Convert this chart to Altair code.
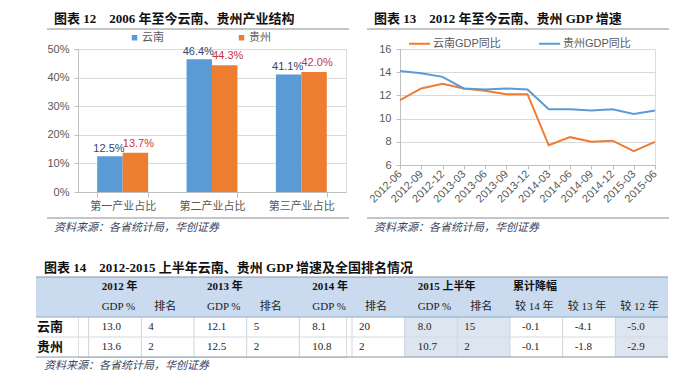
import altair as alt
import pandas as pd

# ---------------- data: 图表 12 ----------------
categories = ["第一产业占比", "第二产业占比", "第三产业占比"]
provinces = ["云南", "贵州"]
yunnan_share = [12.5, 46.4, 41.1]
guizhou_share = [13.7, 44.3, 42.0]

# ---------------- data: 图表 13 ----------------
quarters = ["2012-06", "2012-09", "2012-12", "2013-03", "2013-06", "2013-09", "2013-12",
            "2014-03", "2014-06", "2014-09", "2014-12", "2015-03", "2015-06"]
series_names = ["云南GDP同比", "贵州GDP同比"]
yunnan_gdp = [11.6, 12.6, 13.0, 12.6, 12.4, 12.1, 12.1, 7.7, 8.4, 8.0, 8.1, 7.2, 8.0]
guizhou_gdp = [14.1, 13.9, 13.6, 12.6, 12.5, 12.6, 12.5, 10.8, 10.8, 10.7, 10.8, 10.4, 10.7]

# ---------------- data: 图表 14 ----------------
year_headers = ["2012 年", "2013 年", "2014 年", "2015 上半年", "累计降幅"]
sub_headers = ["GDP %", "排名", "GDP %", "排名", "GDP %", "排名", "GDP %", "排名",
               "较 14 年", "较 13 年", "较 12 年"]
yunnan_row = ["13.0", "4", "12.1", "5", "8.1", "20", "8.0", "15", "-0.1", "-4.1", "-5.0"]
guizhou_row = ["13.6", "2", "12.5", "2", "10.8", "2", "10.7", "2", "-0.1", "-1.8", "-2.9"]

title12 = "图表 12\u30002006 年至今云南、贵州产业结构"
title13 = "图表 13\u30002012 年至今云南、贵州 GDP 增速"
title14 = "图表 14\u30002012-2015 上半年云南、贵州 GDP 增速及全国排名情况"
source_text = "资料来源：各省统计局，华创证券"

# ---------------- styles ----------------
BLUE = "#5B9BD5"
ORANGE = "#ED7D31"
SANS = "Liberation Sans, Noto Sans CJK SC"
SERIF = "Liberation Serif, Noto Sans CJK SC"
LAB = "#595959"
AXC = "#BFBFBF"
GRID = "#D9D9D9"
SRC = "#3B4560"
LINEC = "#8C8C8C"

one_title12 = pd.DataFrame({"t": [title12]})
one_title13 = pd.DataFrame({"t": [title13]})
one_title14 = pd.DataFrame({"t": [title14]})
one_src = pd.DataFrame({"t": [source_text]})


def title_mark(df, x, y):
    return alt.Chart(df).mark_text(align="left", baseline="middle", font=SERIF, fontSize=13,
                                   fontWeight="bold", color="#111111").encode(
        x=alt.value(x), y=alt.value(y), text="t:N")


def source_mark(x, y):
    return alt.Chart(one_src).mark_text(align="left", baseline="middle", font=SANS, fontSize=11,
                                        fontStyle="italic", color=SRC).encode(
        x=alt.value(x), y=alt.value(y), text="t:N")


def hrule(x1, x2, y, color=LINEC):
    return alt.Chart(one_src).mark_rule(color=color, strokeWidth=1).encode(
        x=alt.value(x1), x2=alt.value(x2), y=alt.value(y))


# ---------------- 图表 12: bar chart ----------------
bar_df = pd.DataFrame({
    "类别": categories * 2,
    "省份": [provinces[0]] * len(categories) + [provinces[1]] * len(categories),
    "值": yunnan_share + guizhou_share,
})
bar_df["标签"] = bar_df["值"].map(lambda v: f"{v:.1f}%")

bx = alt.X("类别:N", sort=categories,
           scale=alt.Scale(paddingInner=0.43, paddingOuter=0.215),
           axis=alt.Axis(title=None, labelAngle=0, tickBand="extent", tickSize=5, labelPadding=3,
                         domainColor=AXC, tickColor=AXC, labelColor=LAB, labelFontSize=11,
                         labelFont=SANS, grid=False))
bxo = alt.XOffset("省份:N", sort=provinces, scale=alt.Scale(paddingInner=0, paddingOuter=0))
by = alt.Y("值:Q", scale=alt.Scale(domain=[0, 50], nice=False),
           axis=alt.Axis(title=None, values=[0, 10, 20, 30, 40, 50], labelExpr="datum.value + '%'",
                         tickSize=4, labelPadding=5, domainColor=AXC, tickColor=AXC, gridColor=GRID,
                         labelColor=LAB, labelFontSize=11, labelFont=SANS))

bars = alt.Chart(bar_df).mark_bar().encode(
    x=bx, xOffset=bxo, y=by,
    color=alt.Color("省份:N", sort=provinces,
                    scale=alt.Scale(domain=provinces, range=[BLUE, ORANGE]),
                    legend=alt.Legend(title=None, orient="none", legendX=51, legendY=-17,
                                      direction="horizontal", symbolType="square", symbolSize=30,
                                      symbolStrokeWidth=0, labelFontSize=11, labelColor=LAB,
                                      labelFont=SANS, columnPadding=72, labelOffset=2, padding=0)),
)
lab_yn = alt.Chart(bar_df).transform_filter(alt.datum["省份"] == provinces[0]).mark_text(
    baseline="middle", dy=-7, dx=-1, font=SANS, fontSize=11, color="#34456E").encode(
    x=bx, xOffset=bxo, y=by, text="标签:N")
lab_gz = alt.Chart(bar_df).transform_filter(alt.datum["省份"] == provinces[1]).mark_text(
    baseline="middle", dy=-9, dx=3, font=SANS, fontSize=11, color="#C8343E").encode(
    x=bx, xOffset=bxo, y=by, text="标签:N")

bar_chart = alt.layer(
    bars, lab_yn, lab_gz,
    title_mark(one_title12, -24, -30),
    hrule(-31, 271, -20),
    hrule(-31, 271, 169),
    source_mark(-24, 179),
).properties(width=268, height=143)

# ---------------- 图表 13: line chart ----------------
line_df = pd.DataFrame({
    "季度": quarters * 2,
    "系列": [series_names[0]] * len(quarters) + [series_names[1]] * len(quarters),
    "增速": yunnan_gdp + guizhou_gdp,
})

lines = alt.Chart(line_df).mark_line(strokeWidth=2).encode(
    x=alt.X("季度:O", sort=quarters, scale=alt.Scale(type="point", padding=0),
            axis=alt.Axis(title=None, labelAngle=315, labelAlign="right", labelBaseline="middle",
                          tickSize=4, labelPadding=3, domainColor=AXC, tickColor=AXC,
                          labelColor=LAB, labelFontSize=11, labelFont=SANS, grid=False)),
    y=alt.Y("增速:Q", scale=alt.Scale(domain=[6, 16], nice=False, zero=False),
            axis=alt.Axis(title=None, values=[6, 8, 10, 12, 14, 16], tickSize=4, labelPadding=5,
                          domainColor=AXC, tickColor=AXC, gridColor=GRID, labelColor=LAB,
                          labelFontSize=11, labelFont=SANS)),
    color=alt.Color("系列:N", sort=series_names,
                    scale=alt.Scale(domain=series_names, range=[ORANGE, BLUE]),
                    legend=alt.Legend(title=None, orient="none", legendX=8, legendY=-17,
                                      direction="horizontal", symbolType="stroke", symbolSize=441,
                                      symbolStrokeWidth=2, labelFontSize=11, labelColor=LAB,
                                      labelFont=SANS, columnPadding=34, labelOffset=2, padding=0)),
)

line_chart = alt.layer(
    lines,
    title_mark(one_title13, -26, -30),
    hrule(-33, 269, -20),
    hrule(-33, 269, 169),
    source_mark(-26, 179),
).properties(width=255, height=116)

# ---------------- 图表 14: table ----------------
ncols = 1 + len(sub_headers)
nrows = 4
XS = alt.Scale(domain=[0, ncols], range=[-42, 590], nice=False, zero=False)
YS = alt.Scale(domain=[0, nrows], range=[0, 80], nice=False, zero=False)

year_df = pd.DataFrame({"col": [1 + 2 * i for i in range(len(year_headers))], "row": 0, "t": year_headers})
sub_df = pd.DataFrame({"col": list(range(1, ncols)), "row": 1, "t": sub_headers})
body_df = pd.DataFrame({
    "col": list(range(1, ncols)) * 2,
    "row": [2] * len(yunnan_row) + [3] * len(guizhou_row),
    "t": yunnan_row + guizhou_row,
})
rowlab_df = pd.DataFrame({"col": 0, "row": [2, 3], "t": provinces})

header_bg = pd.DataFrame({"x0": [0], "x1": [ncols], "y0": [0], "y1": [2]})
shaded_cols = [7, 8, 11]
shade_df = pd.DataFrame([{"x0": c, "x1": c + 1, "y0": 2, "y1": 4} for c in shaded_cols])
outer_lines = pd.DataFrame({"x0": 0, "x1": ncols, "y": [0, 4]})
head_line = pd.DataFrame({"x0": 0, "x1": ncols, "y": [2]})
row_line = pd.DataFrame({"x0": 0, "x1": ncols, "y": [3]})
vlines = pd.DataFrame({"x": list(range(1, ncols)), "y0": 2, "y1": 4})


def rect_layer(df, color):
    return alt.Chart(df).mark_rect(color=color).encode(
        x=alt.X("x0:Q", scale=XS, axis=None), x2="x1:Q",
        y=alt.Y("y0:Q", scale=YS, axis=None), y2="y1:Q")


def hline_layer(df, color):
    return alt.Chart(df).mark_rule(color=color, strokeWidth=1).encode(
        x=alt.X("x0:Q", scale=XS, axis=None), x2="x1:Q",
        y=alt.Y("y:Q", scale=YS, axis=None))


def text_layer(df, dx, font=SERIF, size=11, weight="normal", color="#222222", flt=None):
    ch = alt.Chart(df)
    if flt is not None:
        ch = ch.transform_filter(flt)
    return ch.transform_calculate(yc="datum.row + 0.5").mark_text(
        align="left", baseline="middle", dx=dx, font=font, fontSize=size, fontWeight=weight,
        color=color).encode(
        x=alt.X("col:Q", scale=XS, axis=None),
        y=alt.Y("yc:Q", scale=YS, axis=None),
        text="t:N")


vline_layer = alt.Chart(vlines).mark_rule(color="#CDD3DB", strokeWidth=1).encode(
    x=alt.X("x:Q", scale=XS, axis=None),
    y=alt.Y("y0:Q", scale=YS, axis=None), y2="y1:Q")

table = alt.layer(
    rect_layer(header_bg, "#CADBEF"),
    rect_layer(shade_df, "#DDE5F0"),
    vline_layer,
    hline_layer(row_line, "#D5DAE0"),
    hline_layer(head_line, "#8FA7C4"),
    hline_layer(outer_lines, "#8A96A6"),
    text_layer(year_df, 13, weight="bold", color="#111111", flt="datum.col < 9"),
    text_layer(year_df, 3, weight="bold", color="#111111", flt="datum.col >= 9"),
    text_layer(sub_df, 13, flt="datum.col < 9"),
    text_layer(sub_df, 5, flt="datum.col >= 9"),
    text_layer(body_df, 13, flt="datum.col < 9 && datum.col % 2 == 1"),
    text_layer(body_df, 7, flt="datum.col < 9 && datum.col % 2 == 0"),
    text_layer(body_df, 12, flt="datum.col >= 9"),
    text_layer(rowlab_df, 1, font=SANS, size=13, weight="bold", color="#111111"),
    title_mark(one_title14, -34, -9),
    source_mark(-34, 89),
).properties(width=268, height=80)

chart = alt.concat(
    bar_chart, line_chart, table,
    columns=2, spacing={"row": 85, "column": 54}, bounds="flush",
).resolve_scale(color="independent").resolve_legend(color="independent").properties(
    padding={"left": 27, "top": 4, "right": 4, "bottom": 0}
).configure_view(stroke=None).configure(font=SANS)

chart.save("out.html", embed_options={"renderer": "svg", "actions": False})
